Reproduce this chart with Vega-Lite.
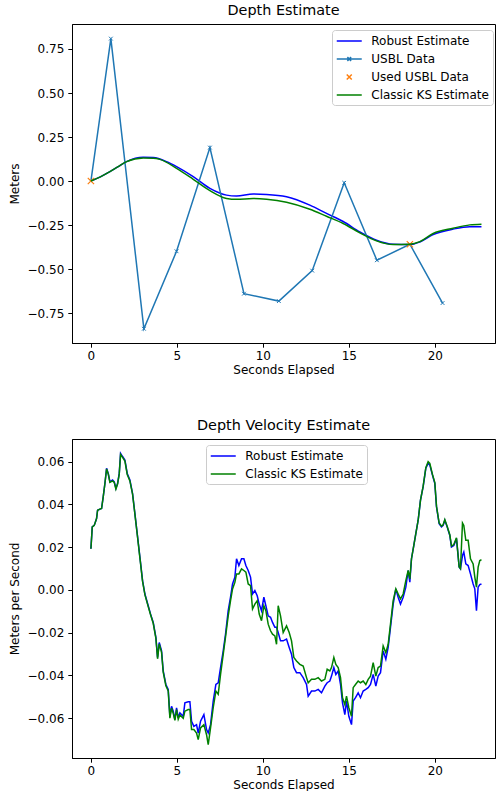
{
  "$schema": "https://vega.github.io/schema/vega-lite/v6.json",
  "background": "white",
  "padding": {"left": 7, "top": 2, "right": 0, "bottom": 0},
  "spacing": 41,
  "config": {
    "font": "DejaVu Sans",
    "view": {"stroke": "black", "strokeWidth": 1},
    "axis": {
      "grid": false,
      "domainColor": "black",
      "domainWidth": 1,
      "tickColor": "black",
      "tickWidth": 1,
      "tickSize": 4.2,
      "labelColor": "black",
      "labelFont": "DejaVu Sans",
      "labelFontSize": 12,
      "labelPadding": 4,
      "titleColor": "black",
      "titleFont": "DejaVu Sans",
      "titleFontSize": 12,
      "titleFontWeight": "normal"
    },
    "axisX": {"labelPadding": 3},
    "title": {"font": "DejaVu Sans", "fontSize": 14.4, "fontWeight": "normal", "color": "black", "offset": 6},
    "legend": {
      "labelFont": "DejaVu Sans",
      "labelFontSize": 12,
      "labelColor": "black",
      "fillColor": "rgba(255,255,255,0.8)",
      "strokeColor": "#cccccc",
      "cornerRadius": 3,
      "padding": 4,
      "rowPadding": 5,
      "symbolSize": 156.25,
      "symbolStrokeWidth": 1.5,
      "symbolOffset": 6.25,
      "labelOffset": 15
    }
  },
  "datasets": {
    "depth": [
      {"series": "Robust Estimate", "t": 0, "v": 0},
      {"series": "Robust Estimate", "t": 0.55, "v": 0.024},
      {"series": "Robust Estimate", "t": 1.105, "v": 0.053},
      {"series": "Robust Estimate", "t": 1.59, "v": 0.082},
      {"series": "Robust Estimate", "t": 2.074, "v": 0.11},
      {"series": "Robust Estimate", "t": 3.043, "v": 0.135},
      {"series": "Robust Estimate", "t": 3.624, "v": 0.133},
      {"series": "Robust Estimate", "t": 4.399, "v": 0.11},
      {"series": "Robust Estimate", "t": 4.981, "v": 0.082},
      {"series": "Robust Estimate", "t": 5.95, "v": 0.025},
      {"series": "Robust Estimate", "t": 6.919, "v": -0.042},
      {"series": "Robust Estimate", "t": 7.888, "v": -0.08},
      {"series": "Robust Estimate", "t": 8.469, "v": -0.085},
      {"series": "Robust Estimate", "t": 9.438, "v": -0.074},
      {"series": "Robust Estimate", "t": 10.213, "v": -0.076},
      {"series": "Robust Estimate", "t": 11.376, "v": -0.089},
      {"series": "Robust Estimate", "t": 12.733, "v": -0.137},
      {"series": "Robust Estimate", "t": 13.702, "v": -0.184},
      {"series": "Robust Estimate", "t": 14.671, "v": -0.23},
      {"series": "Robust Estimate", "t": 15.64, "v": -0.289},
      {"series": "Robust Estimate", "t": 16.609, "v": -0.336},
      {"series": "Robust Estimate", "t": 17.578, "v": -0.359},
      {"series": "Robust Estimate", "t": 18.547, "v": -0.361},
      {"series": "Robust Estimate", "t": 19.128, "v": -0.346},
      {"series": "Robust Estimate", "t": 19.903, "v": -0.304},
      {"series": "Robust Estimate", "t": 21.066, "v": -0.273},
      {"series": "Robust Estimate", "t": 22.035, "v": -0.26},
      {"series": "Robust Estimate", "t": 22.713, "v": -0.26},
      {"series": "Classic KS Estimate", "t": 0, "v": 0},
      {"series": "Classic KS Estimate", "t": 0.55, "v": 0.024},
      {"series": "Classic KS Estimate", "t": 1.105, "v": 0.053},
      {"series": "Classic KS Estimate", "t": 1.59, "v": 0.082},
      {"series": "Classic KS Estimate", "t": 2.074, "v": 0.11},
      {"series": "Classic KS Estimate", "t": 3.043, "v": 0.131},
      {"series": "Classic KS Estimate", "t": 3.624, "v": 0.13},
      {"series": "Classic KS Estimate", "t": 4.012, "v": 0.123},
      {"series": "Classic KS Estimate", "t": 4.981, "v": 0.072},
      {"series": "Classic KS Estimate", "t": 5.95, "v": 0.01},
      {"series": "Classic KS Estimate", "t": 6.919, "v": -0.055},
      {"series": "Classic KS Estimate", "t": 7.888, "v": -0.099},
      {"series": "Classic KS Estimate", "t": 8.469, "v": -0.104},
      {"series": "Classic KS Estimate", "t": 9.438, "v": -0.099},
      {"series": "Classic KS Estimate", "t": 10.213, "v": -0.103},
      {"series": "Classic KS Estimate", "t": 11.376, "v": -0.12},
      {"series": "Classic KS Estimate", "t": 12.733, "v": -0.16},
      {"series": "Classic KS Estimate", "t": 13.702, "v": -0.2},
      {"series": "Classic KS Estimate", "t": 14.671, "v": -0.241},
      {"series": "Classic KS Estimate", "t": 15.64, "v": -0.294},
      {"series": "Classic KS Estimate", "t": 16.609, "v": -0.34},
      {"series": "Classic KS Estimate", "t": 17.578, "v": -0.361},
      {"series": "Classic KS Estimate", "t": 18.547, "v": -0.359},
      {"series": "Classic KS Estimate", "t": 19.128, "v": -0.344},
      {"series": "Classic KS Estimate", "t": 19.903, "v": -0.298},
      {"series": "Classic KS Estimate", "t": 21.066, "v": -0.268},
      {"series": "Classic KS Estimate", "t": 22.035, "v": -0.249},
      {"series": "Classic KS Estimate", "t": 22.713, "v": -0.245}
    ],
    "usbl": [
      {"series": "USBL Data", "t": 0, "v": 0},
      {"series": "USBL Data", "t": 1.16, "v": 0.809},
      {"series": "USBL Data", "t": 3.08, "v": -0.839},
      {"series": "USBL Data", "t": 4.98, "v": -0.399},
      {"series": "USBL Data", "t": 6.92, "v": 0.19},
      {"series": "USBL Data", "t": 8.9, "v": -0.64},
      {"series": "USBL Data", "t": 10.93, "v": -0.682},
      {"series": "USBL Data", "t": 12.87, "v": -0.509},
      {"series": "USBL Data", "t": 14.73, "v": -0.01},
      {"series": "USBL Data", "t": 16.63, "v": -0.45},
      {"series": "USBL Data", "t": 18.55, "v": -0.359},
      {"series": "USBL Data", "t": 20.45, "v": -0.693}
    ],
    "used": [
      {"series": "Used USBL Data", "t": 0, "v": 0},
      {"series": "Used USBL Data", "t": 18.55, "v": -0.359}
    ],
    "velocity": [
      {"t": 0.000, "robust": 0.0193, "classic": 0.0193},
      {"t": 0.078, "robust": 0.0295, "classic": 0.0295},
      {"t": 0.194, "robust": 0.0302, "classic": 0.0302},
      {"t": 0.329, "robust": 0.0334, "classic": 0.0334},
      {"t": 0.388, "robust": 0.0373, "classic": 0.0373},
      {"t": 0.523, "robust": 0.0378, "classic": 0.0378},
      {"t": 0.620, "robust": 0.0381, "classic": 0.0381},
      {"t": 0.717, "robust": 0.0436, "classic": 0.0436},
      {"t": 0.814, "robust": 0.0498, "classic": 0.0498},
      {"t": 0.911, "robust": 0.0569, "classic": 0.0566},
      {"t": 1.008, "robust": 0.0545, "classic": 0.0542},
      {"t": 1.105, "robust": 0.0506, "classic": 0.0503},
      {"t": 1.260, "robust": 0.0514, "classic": 0.0510},
      {"t": 1.357, "robust": 0.0506, "classic": 0.0503},
      {"t": 1.453, "robust": 0.0475, "classic": 0.0472},
      {"t": 1.550, "robust": 0.0498, "classic": 0.0495},
      {"t": 1.647, "robust": 0.0545, "classic": 0.0542},
      {"t": 1.725, "robust": 0.0639, "classic": 0.0634},
      {"t": 1.841, "robust": 0.0624, "classic": 0.0620},
      {"t": 1.977, "robust": 0.0608, "classic": 0.0603},
      {"t": 2.112, "robust": 0.0545, "classic": 0.0540},
      {"t": 2.267, "robust": 0.0514, "classic": 0.0510},
      {"t": 2.422, "robust": 0.0451, "classic": 0.0448},
      {"t": 2.558, "robust": 0.0357, "classic": 0.0355},
      {"t": 2.694, "robust": 0.0263, "classic": 0.0260},
      {"t": 2.849, "robust": 0.0154, "classic": 0.0150},
      {"t": 3.004, "robust": 0.0044, "classic": 0.0040},
      {"t": 3.140, "robust": -0.0019, "classic": -0.0022},
      {"t": 3.333, "robust": -0.0074, "classic": -0.0078},
      {"t": 3.469, "robust": -0.0113, "classic": -0.0116},
      {"t": 3.624, "robust": -0.0152, "classic": -0.0156},
      {"t": 3.779, "robust": -0.0222, "classic": -0.0226},
      {"t": 3.876, "robust": -0.0316, "classic": -0.0322},
      {"t": 3.973, "robust": -0.0246, "classic": -0.0252},
      {"t": 4.109, "robust": -0.0285, "classic": -0.0292},
      {"t": 4.205, "robust": -0.0379, "classic": -0.0385},
      {"t": 4.360, "robust": -0.0442, "classic": -0.0448},
      {"t": 4.496, "robust": -0.0465, "classic": -0.0472},
      {"t": 4.593, "robust": -0.0591, "classic": -0.0600},
      {"t": 4.690, "robust": -0.0544, "classic": -0.0553},
      {"t": 4.787, "robust": -0.0567, "classic": -0.0577},
      {"t": 4.884, "robust": -0.0606, "classic": -0.0610},
      {"t": 4.981, "robust": -0.0551, "classic": -0.0560},
      {"t": 5.078, "robust": -0.0598, "classic": -0.0605},
      {"t": 5.174, "robust": -0.0575, "classic": -0.0585},
      {"t": 5.368, "robust": -0.0591, "classic": -0.0600},
      {"t": 5.465, "robust": -0.0528, "classic": -0.0567},
      {"t": 5.659, "robust": -0.0523, "classic": -0.0559},
      {"t": 5.756, "robust": -0.0523, "classic": -0.0559},
      {"t": 5.853, "robust": -0.0614, "classic": -0.0653},
      {"t": 5.988, "robust": -0.0638, "classic": -0.0653},
      {"t": 6.143, "robust": -0.0630, "classic": -0.0669},
      {"t": 6.240, "robust": -0.0669, "classic": -0.0700},
      {"t": 6.376, "robust": -0.0614, "classic": -0.0645},
      {"t": 6.570, "robust": -0.0583, "classic": -0.0630},
      {"t": 6.725, "robust": -0.0653, "classic": -0.0677},
      {"t": 6.822, "robust": -0.0669, "classic": -0.0724},
      {"t": 6.957, "robust": -0.0630, "classic": -0.0645},
      {"t": 7.112, "robust": -0.0520, "classic": -0.0551},
      {"t": 7.267, "robust": -0.0442, "classic": -0.0473},
      {"t": 7.403, "robust": -0.0434, "classic": -0.0488},
      {"t": 7.539, "robust": -0.0363, "classic": -0.0395},
      {"t": 7.694, "robust": -0.0285, "classic": -0.0301},
      {"t": 7.829, "robust": -0.0207, "classic": -0.0220},
      {"t": 7.984, "robust": -0.0097, "classic": -0.0121},
      {"t": 8.120, "robust": -0.0034, "classic": -0.0050},
      {"t": 8.236, "robust": 0.0028, "classic": 0.0005},
      {"t": 8.372, "robust": 0.0060, "classic": 0.0036},
      {"t": 8.469, "robust": 0.0146, "classic": 0.0075},
      {"t": 8.605, "robust": 0.0114, "classic": 0.0075},
      {"t": 8.760, "robust": 0.0146, "classic": 0.0099},
      {"t": 8.895, "robust": 0.0146, "classic": 0.0091},
      {"t": 9.012, "robust": 0.0114, "classic": 0.0083},
      {"t": 9.147, "robust": 0.0091, "classic": 0.0028},
      {"t": 9.283, "robust": 0.0060, "classic": 0.0020},
      {"t": 9.399, "robust": -0.0019, "classic": -0.0089},
      {"t": 9.535, "robust": -0.0003, "classic": -0.0066},
      {"t": 9.671, "robust": -0.0027, "classic": -0.0050},
      {"t": 9.787, "robust": -0.0066, "classic": -0.0113},
      {"t": 9.922, "robust": -0.0097, "classic": -0.0144},
      {"t": 10.058, "robust": -0.0034, "classic": -0.0074},
      {"t": 10.174, "robust": -0.0074, "classic": -0.0097},
      {"t": 10.310, "robust": -0.0121, "classic": -0.0160},
      {"t": 10.446, "robust": -0.0128, "classic": -0.0191},
      {"t": 10.562, "robust": -0.0152, "classic": -0.0207},
      {"t": 10.698, "robust": -0.0175, "classic": -0.0215},
      {"t": 10.795, "robust": -0.0175, "classic": -0.0254},
      {"t": 10.891, "robust": -0.0199, "classic": -0.0074},
      {"t": 11.027, "robust": -0.0238, "classic": -0.0121},
      {"t": 11.182, "robust": -0.0238, "classic": -0.0199},
      {"t": 11.376, "robust": -0.0230, "classic": -0.0168},
      {"t": 11.531, "robust": -0.0269, "classic": -0.0199},
      {"t": 11.667, "robust": -0.0301, "classic": -0.0238},
      {"t": 11.802, "robust": -0.0363, "classic": -0.0316},
      {"t": 11.957, "robust": -0.0387, "classic": -0.0332},
      {"t": 12.151, "robust": -0.0387, "classic": -0.0348},
      {"t": 12.345, "robust": -0.0410, "classic": -0.0356},
      {"t": 12.539, "robust": -0.0442, "classic": -0.0410},
      {"t": 12.636, "robust": -0.0497, "classic": -0.0434},
      {"t": 12.829, "robust": -0.0473, "classic": -0.0418},
      {"t": 13.023, "robust": -0.0473, "classic": -0.0418},
      {"t": 13.217, "robust": -0.0465, "classic": -0.0410},
      {"t": 13.411, "robust": -0.0481, "classic": -0.0426},
      {"t": 13.605, "robust": -0.0450, "classic": -0.0418},
      {"t": 13.740, "robust": -0.0434, "classic": -0.0371},
      {"t": 13.895, "robust": -0.0426, "classic": -0.0379},
      {"t": 13.992, "robust": -0.0403, "classic": -0.0363},
      {"t": 14.128, "robust": -0.0363, "classic": -0.0316},
      {"t": 14.244, "robust": -0.0395, "classic": -0.0348},
      {"t": 14.380, "robust": -0.0379, "classic": -0.0363},
      {"t": 14.516, "robust": -0.0442, "classic": -0.0410},
      {"t": 14.632, "robust": -0.0528, "classic": -0.0504},
      {"t": 14.767, "robust": -0.0583, "classic": -0.0536},
      {"t": 14.864, "robust": -0.0520, "classic": -0.0497},
      {"t": 15.000, "robust": -0.0591, "classic": -0.0551},
      {"t": 15.155, "robust": -0.0630, "classic": -0.0591},
      {"t": 15.252, "robust": -0.0520, "classic": -0.0457},
      {"t": 15.388, "robust": -0.0504, "classic": -0.0442},
      {"t": 15.543, "robust": -0.0481, "classic": -0.0426},
      {"t": 15.678, "robust": -0.0504, "classic": -0.0434},
      {"t": 15.833, "robust": -0.0473, "classic": -0.0426},
      {"t": 15.988, "robust": -0.0465, "classic": -0.0442},
      {"t": 16.124, "robust": -0.0457, "classic": -0.0418},
      {"t": 16.260, "robust": -0.0442, "classic": -0.0403},
      {"t": 16.415, "robust": -0.0395, "classic": -0.0340},
      {"t": 16.570, "robust": -0.0450, "classic": -0.0403},
      {"t": 16.705, "robust": -0.0403, "classic": -0.0363},
      {"t": 16.841, "robust": -0.0387, "classic": -0.0356},
      {"t": 16.996, "robust": -0.0285, "classic": -0.0262},
      {"t": 17.151, "robust": -0.0324, "classic": -0.0293},
      {"t": 17.287, "robust": -0.0269, "classic": -0.0254},
      {"t": 17.422, "robust": -0.0175, "classic": -0.0160},
      {"t": 17.578, "robust": -0.0066, "classic": -0.0050},
      {"t": 17.733, "robust": 0.0005, "classic": 0.0005},
      {"t": 17.868, "robust": -0.0034, "classic": -0.0019},
      {"t": 18.004, "robust": -0.0066, "classic": -0.0042},
      {"t": 18.159, "robust": -0.0034, "classic": -0.0019},
      {"t": 18.314, "robust": 0.0013, "classic": 0.0044},
      {"t": 18.450, "robust": 0.0091, "classic": 0.0091},
      {"t": 18.547, "robust": 0.0036, "classic": 0.0052},
      {"t": 18.643, "robust": 0.0146, "classic": 0.0146},
      {"t": 18.779, "robust": 0.0208, "classic": 0.0208},
      {"t": 18.895, "robust": 0.0263, "classic": 0.0263},
      {"t": 19.031, "robust": 0.0326, "classic": 0.0326},
      {"t": 19.167, "robust": 0.0420, "classic": 0.0420},
      {"t": 19.322, "robust": 0.0483, "classic": 0.0486},
      {"t": 19.477, "robust": 0.0569, "classic": 0.0572},
      {"t": 19.612, "robust": 0.0592, "classic": 0.0600},
      {"t": 19.709, "robust": 0.0584, "classic": 0.0592},
      {"t": 19.864, "robust": 0.0537, "classic": 0.0540},
      {"t": 20.000, "robust": 0.0498, "classic": 0.0502},
      {"t": 20.097, "robust": 0.0389, "classic": 0.0392},
      {"t": 20.252, "robust": 0.0310, "classic": 0.0313},
      {"t": 20.388, "robust": 0.0295, "classic": 0.0298},
      {"t": 20.484, "robust": 0.0302, "classic": 0.0305},
      {"t": 20.581, "robust": 0.0326, "classic": 0.0329},
      {"t": 20.717, "robust": 0.0295, "classic": 0.0298},
      {"t": 20.872, "robust": 0.0255, "classic": 0.0258},
      {"t": 20.969, "robust": 0.0201, "classic": 0.0205},
      {"t": 21.105, "robust": 0.0208, "classic": 0.0212},
      {"t": 21.260, "robust": 0.0240, "classic": 0.0244},
      {"t": 21.415, "robust": 0.0107, "classic": 0.0107},
      {"t": 21.492, "robust": 0.0099, "classic": 0.0099},
      {"t": 21.609, "robust": 0.0161, "classic": 0.0313},
      {"t": 21.686, "robust": 0.0177, "classic": 0.0302},
      {"t": 21.802, "robust": 0.0122, "classic": 0.0232},
      {"t": 21.938, "robust": 0.0114, "classic": 0.0232},
      {"t": 22.074, "robust": 0.0075, "classic": 0.0146},
      {"t": 22.229, "robust": 0.0028, "classic": 0.0122},
      {"t": 22.326, "robust": 0.0005, "classic": 0.0060},
      {"t": 22.422, "robust": -0.0097, "classic": 0.0013},
      {"t": 22.519, "robust": 0.0013, "classic": 0.0107},
      {"t": 22.616, "robust": 0.0025, "classic": 0.0138},
      {"t": 22.713, "robust": 0.0028, "classic": 0.0141}
    ]
  },
  "vconcat": [
    {
      "title": "Depth Estimate",
      "width": 423,
      "height": 319,
      "encoding": {
        "x": {
          "field": "t", "type": "quantitative",
          "scale": {"domain": [-1.1, 23.5], "nice": false, "zero": false},
          "axis": {"title": "Seconds Elapsed", "values": [0, 5, 10, 15, 20], "format": "d", "titlePadding": 3}
        },
        "y": {
          "field": "v", "type": "quantitative",
          "scale": {"domain": [-0.92, 0.892], "nice": false, "zero": false},
          "axis": {
            "title": "Meters",
            "values": [-0.75, -0.5, -0.25, 0, 0.25, 0.5, 0.75],
            "format": ".2f",
            "labelExpr": "replace(datum.label, '-', '−')",
            "titlePadding": 6
          }
        },
        "color": {
          "field": "series", "type": "nominal",
          "scale": {
            "domain": ["Robust Estimate", "USBL Data", "Used USBL Data", "Classic KS Estimate"],
            "range": ["#0000ff", "#1f77b4", "#ff7f0e", "#008000"]
          },
          "legend": {
            "title": null,
            "orient": "none",
            "legendX": 260,
            "legendY": 6,
            "encode": {
              "symbols": {
                "update": {
                  "shape": {"signal": "datum.value === 'Used USBL Data' ? 'M-0.4,-0.4L0.4,0.4M-0.4,0.4L0.4,-0.4' : datum.value === 'USBL Data' ? 'M-2,0L2,0M-0.3,-0.3L0.3,0.3M-0.3,0.3L0.3,-0.3' : 'M-2,0L2,0'"},
                  "fill": {"value": "transparent"},
                  "stroke": {"scale": "color", "field": "value"},
                  "strokeWidth": {"value": 1.5},
                  "opacity": {"value": 1}
                }
              }
            }
          }
        }
      },
      "layer": [
        {
          "data": {"name": "depth"},
          "transform": [{"filter": "datum.series === 'Robust Estimate'"}],
          "mark": {"type": "line", "strokeWidth": 1.5, "interpolate": "monotone"}
        },
        {
          "data": {"name": "usbl"},
          "mark": {"type": "line", "strokeWidth": 1.5}
        },
        {
          "data": {"name": "usbl"},
          "mark": {"type": "point", "shape": "M-1,-1L1,1M-1,1L1,-1", "filled": false, "size": 14, "strokeWidth": 1, "opacity": 1}
        },
        {
          "data": {"name": "used"},
          "mark": {"type": "point", "shape": "M-1,-1L1,1M-1,1L1,-1", "filled": false, "size": 40, "strokeWidth": 1.2, "opacity": 1}
        },
        {
          "data": {"name": "depth"},
          "transform": [{"filter": "datum.series === 'Classic KS Estimate'"}],
          "mark": {"type": "line", "strokeWidth": 1.5, "interpolate": "monotone"}
        }
      ]
    },
    {
      "title": "Depth Velocity Estimate",
      "width": 423,
      "height": 319,
      "data": {"name": "velocity"},
      "transform": [
        {"fold": ["robust", "classic"], "as": ["key", "v"]},
        {"calculate": "datum.key === 'robust' ? 'Robust Estimate' : 'Classic KS Estimate'", "as": "series"}
      ],
      "mark": {"type": "line", "strokeWidth": 1.5},
      "encoding": {
        "x": {
          "field": "t", "type": "quantitative",
          "scale": {"domain": [-1.1, 23.5], "nice": false, "zero": false},
          "axis": {"title": "Seconds Elapsed", "values": [0, 5, 10, 15, 20], "format": "d", "titlePadding": 3}
        },
        "y": {
          "field": "v", "type": "quantitative",
          "scale": {"domain": [-0.0786, 0.0706], "nice": false, "zero": false},
          "axis": {
            "title": "Meters per Second",
            "values": [-0.06, -0.04, -0.02, 0, 0.02, 0.04, 0.06],
            "format": ".2f",
            "labelExpr": "replace(datum.label, '-', '−')",
            "titlePadding": 6
          }
        },
        "color": {
          "field": "series", "type": "nominal",
          "scale": {
            "domain": ["Robust Estimate", "Classic KS Estimate"],
            "range": ["#0000ff", "#008000"]
          },
          "legend": {
            "title": null,
            "orient": "none",
            "legendX": 134,
            "legendY": 6,
            "encode": {
              "symbols": {
                "update": {
                  "shape": {"value": "M-2,0L2,0"},
                  "fill": {"value": "transparent"},
                  "stroke": {"scale": "color", "field": "value"},
                  "strokeWidth": {"value": 1.5},
                  "opacity": {"value": 1}
                }
              }
            }
          }
        },
        "order": {"field": "t", "type": "quantitative"}
      }
    }
  ],
  "resolve": {"scale": {"color": "independent"}}
}
